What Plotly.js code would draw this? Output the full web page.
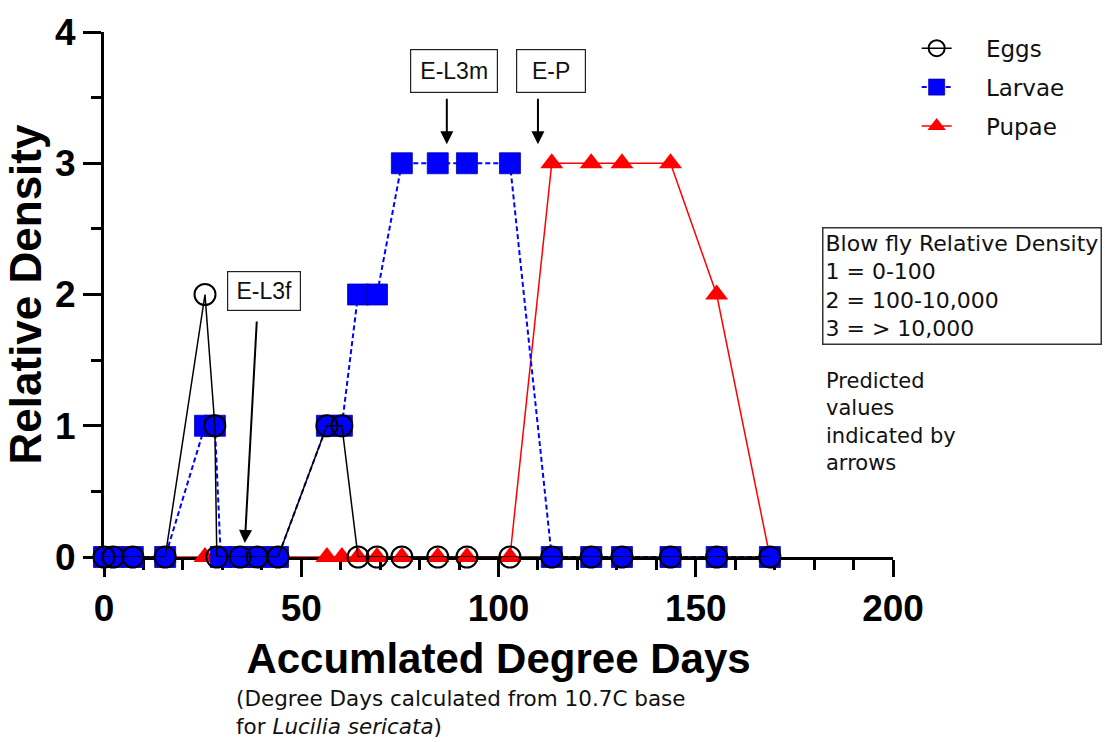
<!DOCTYPE html>
<html>
<head>
<meta charset="utf-8">
<script src="https://cdn.plot.ly/plotly-3.0.1.min.js"></script>
<style>html,body{margin:0;padding:0;background:#fff;}#chart{width:1105px;height:742px;}</style>
</head>
<body>
<div id="chart"></div>
<script>
// Accumulated degree days and relative density (0-3) per life stage
const eggsX   = [0, 2.3, 7.3, 15.5, 25.6, 28.1, 28.6, 34.5, 38.8, 44.1, 56.5, 60.3, 64.4, 69.2, 75.5, 84.6, 92.0, 102.9, 113.5, 123.5, 131.3, 143.6, 155.3, 168.8];
const eggsY   = [0, 0, 0, 0, 2, 1, 0, 0, 0, 0, 1, 1, 0, 0, 0, 0, 0, 0, 0, 0, 0, 0, 0, 0];
const larvaeX = [0, 2.3, 7.3, 15.5, 25.6, 28.1, 29.6, 34.5, 38.8, 44.1, 56.5, 60.3, 64.4, 69.2, 75.5, 84.6, 92.0, 102.9, 113.5, 123.5, 131.3, 143.6, 155.3, 168.8];
const larvaeY = [0, 0, 0, 0, 1, 1, 0, 0, 0, 0, 1, 1, 2, 2, 3, 3, 3, 3, 0, 0, 0, 0, 0, 0];
const pupaeX  = [0, 2.3, 7.3, 15.5, 25.6, 28.1, 29.6, 34.5, 38.8, 44.1, 56.5, 60.3, 64.4, 69.2, 75.5, 84.6, 92.0, 102.9, 113.5, 123.5, 131.3, 143.6, 155.3, 168.8];
const pupaeY  = [0, 0, 0, 0, 0, 0, 0, 0, 0, 0, 0, 0, 0, 0, 0, 0, 0, 0, 3, 3, 3, 3, 2, 0];

// Predicted values (arrows)
const predLabels = ["E-L3f", "E-L3m", "E-P"];
const predX      = [35.7, 86.9, 110.0];

const seriesNames = ["Eggs", "Larvae", "Pupae"];
const xTickVals = [0, 50, 100, 150, 200];
const yTickVals = [0, 1, 2, 3, 4];

const F = "Liberation Sans, Arial, sans-serif";
const FW = "DejaVu Sans, Liberation Sans, sans-serif";
const pad = "\u00a0\u00a0\u00a0\u00a0";

const traces = [
  {
    name: pad + seriesNames[2], legendgroup: "p", legendrank: 3, x: pupaeX, y: pupaeY, type: "scatter", mode: "lines+markers",
    cliponaxis: false,
    line: {color: "#ff0000", width: 1.5},
    marker: {symbol: "triangle-up", size: 20, color: "#ff0000", line: {width: 0}}
  },
  {
    name: pad + seriesNames[1], legendgroup: "l", legendrank: 2, x: larvaeX, y: larvaeY, type: "scatter", mode: "lines+markers",
    cliponaxis: false,
    line: {color: "#0000ff", width: 2, dash: "5px,3px"},
    marker: {symbol: "square", size: 21, color: "#0000ff", line: {width: 0.8, color: "#0000b0"}}
  },
  {
    name: pad + seriesNames[0], legendgroup: "e", legendrank: 1, x: eggsX, y: eggsY, type: "scatter", mode: "lines+markers",
    cliponaxis: false,
    line: {color: "#000000", width: 1.5},
    marker: {symbol: "circle-open", size: 21, color: "#000000", line: {width: 2, color: "#000000"}}
  }
];

const annotations = [];
// boxes for predictions
const boxX = [40.5, 88.7, 113.3];
const boxY = [2.03, 3.70, 3.70];
const boxW = [60, 74, 56];
const boxH = [26, 30, 30];
for (let i = 0; i < predLabels.length; i++) {
  annotations.push({
    xref: "x", yref: "y", x: boxX[i], y: boxY[i], text: predLabels[i], showarrow: false,
    font: {family: F, size: 23, color: "#111"}, bordercolor: "#222", borderwidth: 1.2,
    borderpad: 6, bgcolor: "#fff", width: boxW[i], height: boxH[i]
  });
}
// arrows
const arrowTipY = [0.107, 3.145, 3.145];
const arrowAx = [12, 0, 0];
const arrowAy = [-223, -47, -47];
for (let i = 0; i < predLabels.length; i++) {
  annotations.push({
    xref: "x", yref: "y", x: predX[i], y: arrowTipY[i], text: "", showarrow: true,
    ax: arrowAx[i], ay: arrowAy[i], arrowhead: 2, arrowsize: 1.3, arrowwidth: 2, arrowcolor: "#000",
    standoff: 0, startstandoff: 0
  });
}
annotations.push({
  xref: "paper", yref: "paper", x: 0.91, y: 0.6286, xanchor: "left", yanchor: "top", align: "left",
  text: "Blow fly Relative Density<br>1 = 0-100<br>2 = 100-10,000<br>3 = &gt; 10,000",
  showarrow: false, font: {family: FW, size: 22, color: "#111"},
  bordercolor: "#333", borderwidth: 1.5, borderpad: 2, bgcolor: "#fff"
});
annotations.push({
  xref: "paper", yref: "paper", x: 0.913, y: 0.362, xanchor: "left", yanchor: "top", align: "left",
  text: "Predicted<br>values<br>indicated by<br>arrows",
  showarrow: false, font: {family: FW, size: 21, color: "#111"}
});
annotations.push({
  xref: "paper", yref: "paper", x: 0.165, y: -0.241, xanchor: "left", yanchor: "top", align: "left",
  text: "(Degree Days calculated from 10.7C base<br>for <i>Lucilia sericata</i>)",
  showarrow: false, font: {family: FW, size: 21.5, color: "#111"}
});

const layout = {
  width: 1105, height: 742,
  margin: {l: 104, r: 212, t: 32, b: 185},
  paper_bgcolor: "#fff", plot_bgcolor: "#fff",
  font: {family: F, color: "#000"},
  showlegend: true,
  legend: {
    x: 1.03, y: 1.01, xanchor: "left", yanchor: "top",
    traceorder: "grouped", tracegroupgap: 6, itemwidth: 30,
    font: {family: FW, size: 23, color: "#111"}, bgcolor: "rgba(0,0,0,0)"
  },
  xaxis: {
    range: [0, 200], tickmode: "array", tickvals: xTickVals, ticktext: xTickVals.map(String),
    showgrid: false, zeroline: false, showline: true, linecolor: "#000", linewidth: 3,
    ticks: "outside", ticklen: 17, tickwidth: 3, tickcolor: "#000", layer: "below traces",
    minor: {dtick: 10, tick0: 0, ticks: "outside", ticklen: 10, tickwidth: 3, tickcolor: "#000", showgrid: false},
    tickfont: {family: F, size: 37, weight: 700, color: "#000"},
    title: {text: "Accumlated Degree Days", font: {family: F, size: 42, weight: 700, color: "#000"}, standoff: 16},
    automargin: false
  },
  yaxis: {
    range: [0, 4], tickmode: "array", tickvals: yTickVals, ticktext: yTickVals.map(String),
    showgrid: false, zeroline: false, showline: true, linecolor: "#000", linewidth: 3,
    ticks: "outside", ticklen: 18, tickwidth: 3, tickcolor: "#000", layer: "below traces",
    minor: {dtick: 0.5, tick0: 0, ticks: "outside", ticklen: 10, tickwidth: 3, tickcolor: "#000", showgrid: false},
    tickfont: {family: F, size: 37, weight: 700, color: "#000"},
    title: {text: "Relative Density", font: {family: F, size: 44, weight: 700, color: "#000"}, standoff: 0},
    automargin: false
  },
  annotations: annotations
};

Plotly.newPlot("chart", traces, layout, {displayModeBar: false, staticPlot: true});
</script>
</body>
</html>
